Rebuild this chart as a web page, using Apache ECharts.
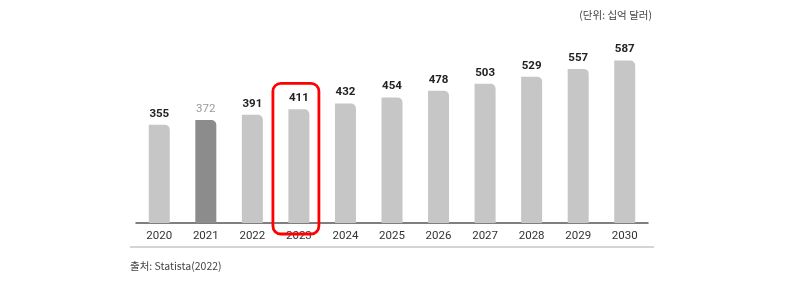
<!DOCTYPE html>
<html><head><meta charset="utf-8">
<script src="https://cdn.jsdelivr.net/npm/echarts@6/dist/echarts.min.js"></script>
<style>html,body{margin:0;padding:0;background:#fff}#c{width:796px;height:283px}</style>
</head><body><div id="c"></div>
<script>
const categories = ['2020','2021','2022','2023','2024','2025','2026','2027','2028','2029','2030'];
const values = [355,372,391,411,432,454,478,503,529,557,587];
const highlightYear = '2023';
const darkYear = '2021';
const unitText = '(단위: 십억 달러)';
const sourceText = '출처: Statista(2022)';

const chart = echarts.init(document.getElementById('c'));
const fontNum = 'Roboto, "Liberation Sans", Arial, sans-serif';
const fontKr = '"Noto Sans CJK KR", sans-serif';
const data = values.map((v,i)=>{
  const dark = categories[i]===darkYear;
  return {
    value: v,
    itemStyle: {color: dark ? '#8c8c8c' : '#c6c6c6'},
    label: dark ? {color:'#9a9a9a', fontWeight:'normal'} : {}
  };
});
const baseGraphic = [
  {type:'text', right:144, top:10, style:{text:unitText, fill:'#444', font:'10.5px '+fontKr}},
  {type:'text', left:130, top:261, style:{text:sourceText, fill:'#444', font:'10.5px '+fontKr}},
  {type:'line', shape:{x1:130, y1:247, x2:654, y2:247}, style:{stroke:'#aaa', lineWidth:1}}
];
chart.setOption({
  animation:false,
  grid:{left:136, right:148, top:57, bottom:60},
  xAxis:{type:'category', data:categories,
    axisLine:{lineStyle:{color:'#555', width:1.5}},
    axisTick:{show:false},
    axisLabel:{color:'#333', fontSize:11.5, fontFamily:fontNum, margin:7}},
  yAxis:{type:'value', min:0, max:600, show:false, splitLine:{show:false}},
  series:[{type:'bar', data:data, barWidth:21,
    itemStyle:{borderRadius:[0,5,0,0]},
    label:{show:true, position:'top', distance:5, color:'#222', fontWeight:'bold', fontSize:11.5, fontFamily:fontNum}
  }],
  graphic: baseGraphic
});
// red highlight box computed from the axis scale
const idx = categories.indexOf(highlightYear);
const topPt = chart.convertToPixel({gridIndex:0},[idx, values[idx]]);
const basePt = chart.convertToPixel({gridIndex:0},[idx, 0]);
const halfW = 23;
const cx = topPt[0] - 3;
chart.setOption({graphic: baseGraphic.concat([
  {type:'rect', z:100, shape:{x:cx-halfW, y:topPt[1]-26, width:halfW*2, height:basePt[1]-topPt[1]+37, r:8},
   style:{fill:'none', stroke:'#ff0000', lineWidth:2.8}}
])}, {replaceMerge:['graphic']});
</script></body></html>
